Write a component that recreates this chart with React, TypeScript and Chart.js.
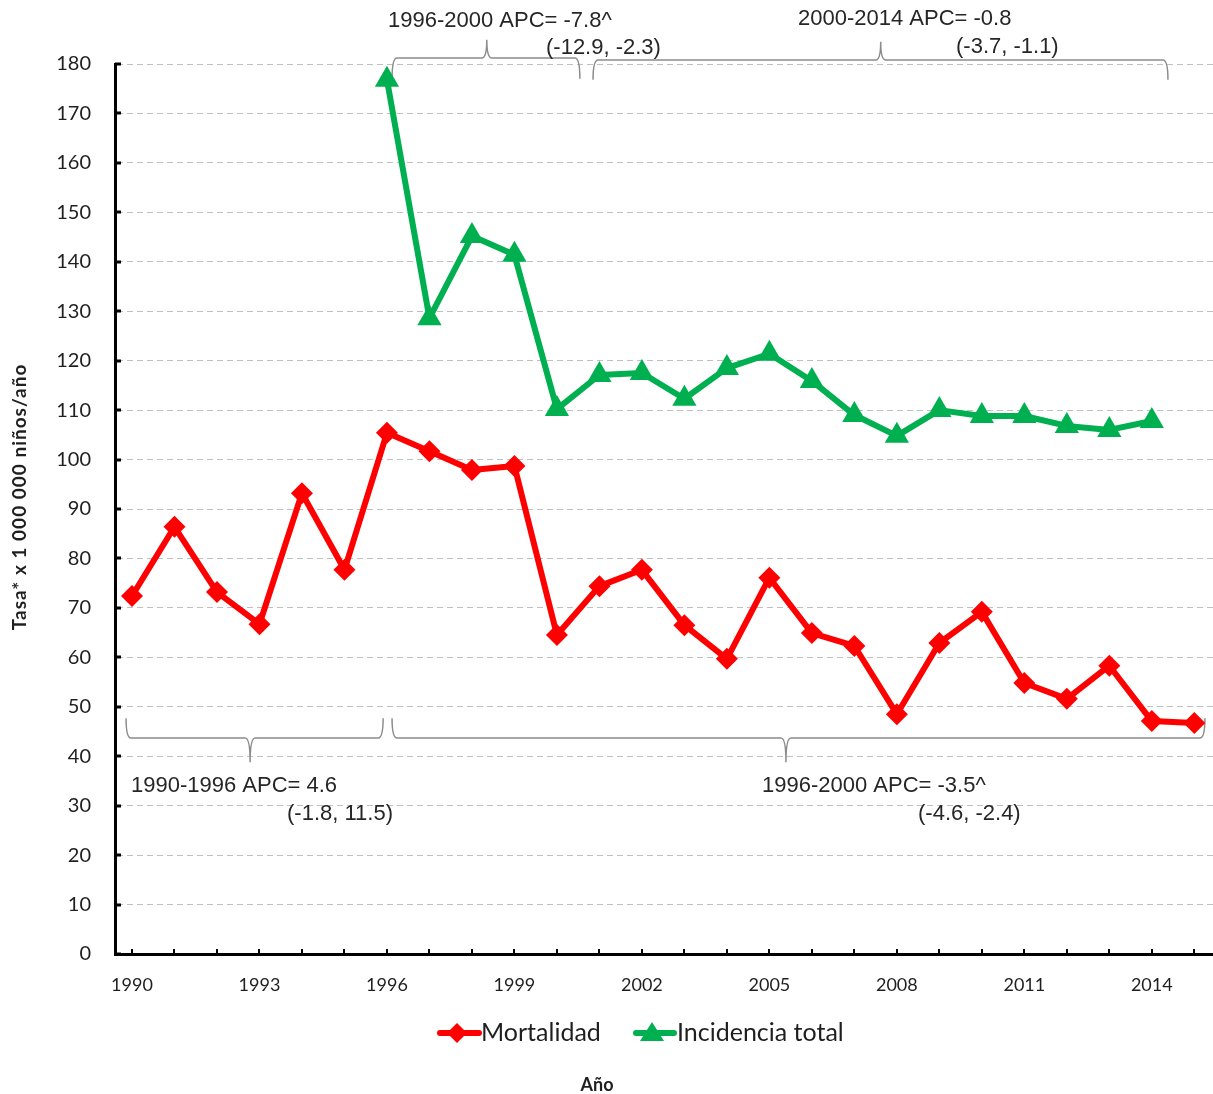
import React, { useEffect, useRef } from 'react';
import { Chart, registerables } from 'chart.js';

Chart.register(...registerables);

const years = [1990, 1991, 1992, 1993, 1994, 1995, 1996, 1997, 1998, 1999, 2000, 2001, 2002, 2003, 2004, 2005, 2006, 2007, 2008, 2009, 2010, 2011, 2012, 2013, 2014, 2015];
const tickYears = [1990, 1993, 1996, 1999, 2002, 2005, 2008, 2011, 2014];
const mortalidad = [72.4, 86.4, 73.2, 66.7, 93.2, 77.7, 105.4, 101.7, 97.9, 98.7, 64.5, 74.4, 77.7, 66.5, 59.7, 76.1, 64.9, 62.3, 48.5, 62.9, 69.2, 54.8, 51.6, 58.3, 47.1, 46.7];
const incidencia: (number | null)[] = [null, null, null, null, null, null, 176.8, 128.6, 145.2, 141.4, 110.2, 117.1, 117.5, 112.3, 118.5, 121.4, 115.9, 109.0, 104.8, 110.0, 108.8, 108.8, 106.8, 106.0, 107.8, null];

const seriesNames = ['Mortalidad', 'Incidencia total'];
const yTitle = 'Tasa* x 1 000 000 niños/año';
const xTitle = 'Año';

// Brackets: [fromYear, toYear, midYear, lineValue, endValue, peakValue]
const brackets = [
  [1996.12, 2000.54, 1998.35, 181.2, 177.0, 184.9],
  [2000.85, 2014.38, 2007.62, 180.8, 176.8, 184.5],
  [1989.86, 1995.91, 1992.78, 43.7, 47.7, 38.8],
  [1996.12, 2015.25, 2005.39, 43.7, 47.7, 38.8],
];

const annotations: [string, number, number][] = [
  ['1996-2000 APC= -7.8^', 388, 21],
  ['(-12.9, -2.3)', 546, 48],
  ['2000-2014 APC= -0.8', 798, 19],
  ['(-3.7, -1.1)', 956, 47],
  ['1990-1996 APC= 4.6', 131, 786],
  ['(-1.8, 11.5)', 287, 814],
  ['1996-2000 APC= -3.5^', 762, 786],
  ['(-4.6, -2.4)', 918, 814],
];

const RED = '#ff0000';
const GREEN = '#00b050';
const TEXT = '#1f1f1f';

function brace(ctx: CanvasRenderingContext2D, x1: number, x2: number, xm: number, yl: number, ye: number, yp: number) {
  const r = 5;
  ctx.beginPath();
  ctx.moveTo(x1, ye);
  ctx.quadraticCurveTo(x1, yl, x1 + r, yl);
  ctx.lineTo(xm - r, yl);
  ctx.quadraticCurveTo(xm, yl, xm, yp);
  ctx.moveTo(xm, yp);
  ctx.quadraticCurveTo(xm, yl, xm + r, yl);
  ctx.lineTo(x2 - r, yl);
  ctx.quadraticCurveTo(x2, yl, x2, ye);
  ctx.stroke();
}

const decor = {
  id: 'decor',
  beforeDatasetsDraw(chart: any) {
    const ctx = chart.ctx as CanvasRenderingContext2D;
    const xs = chart.scales.x;
    const ys = chart.scales.y;
    ctx.save();
    ctx.strokeStyle = '#8c8c8c';
    ctx.lineWidth = 1.5;
    brackets.forEach((b) => {
      brace(
        ctx,
        xs.getPixelForValue(b[0]),
        xs.getPixelForValue(b[1]),
        xs.getPixelForValue(b[2]),
        ys.getPixelForValue(b[3]),
        ys.getPixelForValue(b[4]),
        ys.getPixelForValue(b[5])
      );
    });
    ctx.restore();
  },
  afterDraw(chart: any) {
    const ctx = chart.ctx as CanvasRenderingContext2D;
    const xs = chart.scales.x;
    const ys = chart.scales.y;
    const ca = chart.chartArea;
    ctx.save();
    // tick marks (inside)
    ctx.strokeStyle = '#000';
    ctx.lineWidth = 3;
    for (let v = 0; v <= 180; v += 10) {
      const py = Math.round(ys.getPixelForValue(v));
      ctx.beginPath();
      ctx.moveTo(ca.left, py);
      ctx.lineTo(ca.left + 6, py);
      ctx.stroke();
    }
    ctx.lineWidth = 2;
    years.forEach((yr) => {
      const px = Math.round(xs.getPixelForValue(yr));
      ctx.beginPath();
      ctx.moveTo(px, ca.bottom);
      ctx.lineTo(px, ca.bottom - 5);
      ctx.stroke();
    });

    // annotations
    ctx.fillStyle = '#262626';
    ctx.font = '22px "Liberation Sans", Arial, sans-serif';
    ctx.textAlign = 'left';
    ctx.textBaseline = 'middle';
    annotations.forEach(([t, x, y]) => ctx.fillText(t, x, y));

    // y title
    ctx.save();
    ctx.translate(20, 497);
    ctx.rotate(-Math.PI / 2);
    ctx.textAlign = 'center';
    ctx.font = 'bold 19px Lato, "Open Sans", sans-serif';
    (ctx as any).letterSpacing = '1px';
    ctx.fillStyle = TEXT;
    ctx.fillText(yTitle, 0, 0);
    ctx.restore();

    // x title
    ctx.textAlign = 'center';
    ctx.font = 'bold 18px Lato, "Open Sans", sans-serif';
    ctx.fillStyle = TEXT;
    ctx.fillText(xTitle, 597, 1085);

    // legend
    const ly = 1033;
    ctx.lineWidth = 6;
    ctx.lineCap = 'round';
    ctx.strokeStyle = RED;
    ctx.beginPath();
    ctx.moveTo(440, ly);
    ctx.lineTo(479, ly);
    ctx.stroke();
    ctx.fillStyle = RED;
    ctx.beginPath();
    ctx.moveTo(457, ly - 10);
    ctx.lineTo(467, ly);
    ctx.lineTo(457, ly + 10);
    ctx.lineTo(447, ly);
    ctx.closePath();
    ctx.fill();
    ctx.strokeStyle = GREEN;
    ctx.beginPath();
    ctx.moveTo(636, ly);
    ctx.lineTo(674, ly);
    ctx.stroke();
    ctx.fillStyle = GREEN;
    ctx.beginPath();
    ctx.moveTo(652, ly - 11);
    ctx.lineTo(664, ly + 8);
    ctx.lineTo(640, ly + 8);
    ctx.closePath();
    ctx.fill();
    ctx.fillStyle = TEXT;
    ctx.textAlign = 'left';
    ctx.font = '25px Lato, "Open Sans", sans-serif';
    ctx.fillText(seriesNames[0], 481, ly);
    ctx.fillText(seriesNames[1], 677, ly);
    ctx.restore();
  },
};

export default function App() {
  const ref = useRef<HTMLCanvasElement>(null);
  useEffect(() => {
    if (!ref.current) return;
    const chart = new Chart(ref.current, {
      type: 'line',
      data: {
        datasets: [
          {
            label: seriesNames[0],
            data: years.map((x, i) => ({ x, y: mortalidad[i] })),
            borderColor: RED,
            backgroundColor: RED,
            borderWidth: 6,
            pointStyle: 'rectRot',
            pointRadius: 11,
            pointBorderWidth: 0,
            pointBackgroundColor: RED,
            borderJoinStyle: 'round',
            tension: 0,
            clip: false as any,
          },
          {
            label: seriesNames[1],
            data: years.map((x, i) => ({ x, y: incidencia[i] })),
            borderColor: GREEN,
            backgroundColor: GREEN,
            borderWidth: 6,
            pointStyle: 'triangle',
            pointRadius: 14,
            pointBorderWidth: 0,
            pointBackgroundColor: GREEN,
            borderJoinStyle: 'round',
            tension: 0,
            clip: false as any,
          },
        ],
      },
      options: {
        responsive: false,
        animation: false,
        devicePixelRatio: 1,
        layout: { autoPadding: false, padding: { top: 64, right: 0, bottom: 0, left: 0 } },
        plugins: {
          legend: { display: false },
          tooltip: { enabled: false },
          title: { display: false },
        },
        scales: {
          x: {
            type: 'linear',
            min: 1989.6,
            max: 2015.44,
            afterBuildTicks: (scale: any) => {
              scale.ticks = tickYears.map((v) => ({ value: v }));
            },
            afterFit: (scale: any) => {
              scale.height = 140;
              scale.paddingLeft = 0;
              scale.paddingRight = 0;
            },
            ticks: {
              autoSkip: false,
              maxRotation: 0,
              padding: 20,
              color: TEXT,
              font: { family: 'Lato, "Open Sans", sans-serif', size: 18 },
              callback: (v: any) => String(v),
            },
            grid: { display: false, drawTicks: false },
            border: { display: true, color: '#000', width: 3 },
          },
          y: {
            min: 0,
            max: 180,
            afterFit: (scale: any) => {
              scale.width = 115;
            },
            ticks: {
              stepSize: 10,
              padding: 24,
              color: TEXT,
              font: { family: 'Lato, "Open Sans", sans-serif', size: 20 },
            },
            grid: { color: '#c0c0c0', lineWidth: 1, drawTicks: false },
            border: { display: true, color: '#000', width: 3, dash: [6, 4] as any },
          },
        },
      } as any,
      plugins: [decor],
    });
    return () => chart.destroy();
  }, []);
  return (
    <div style={{ position: 'absolute', left: 0, top: 0, width: 1213, height: 1094, background: '#fff' }}>
      <canvas ref={ref} width={1213} height={1094} style={{ width: 1213, height: 1094, display: 'block' }} />
    </div>
  );
}
